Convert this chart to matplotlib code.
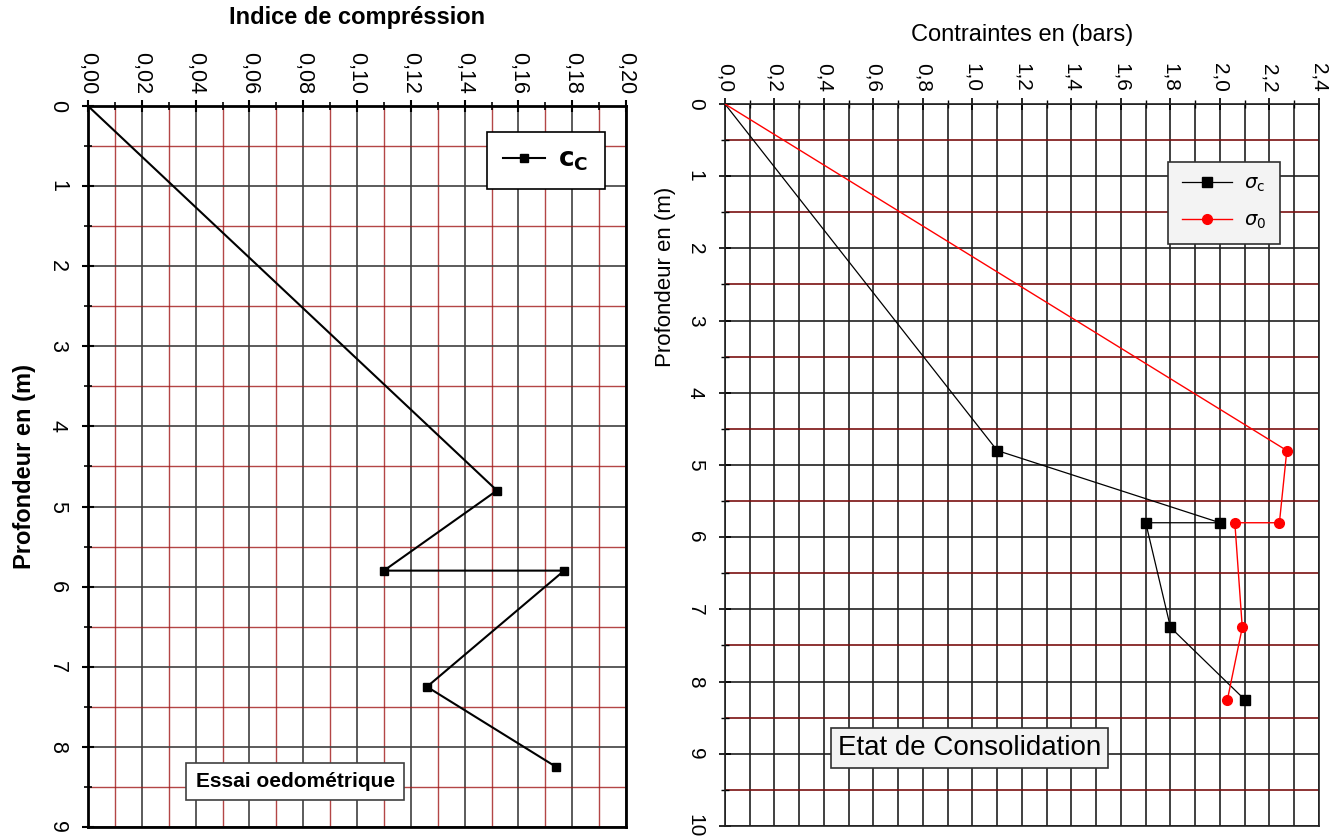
import matplotlib.pyplot as plt
from matplotlib.ticker import MultipleLocator, FuncFormatter

plt.rcParams['font.family'] = ['Liberation Sans', 'DejaVu Sans']

# left chart: indice de compression vs profondeur
prof_cc = [0, 4.8, 5.8, 5.8, 7.25, 8.25]
cc = [0, 0.152, 0.110, 0.177, 0.126, 0.174]

# right chart: contraintes vs profondeur
prof_sig = [0, 4.8, 5.8, 5.8, 7.25, 8.25]
sigma_c = [0, 1.1, 2.0, 1.7, 1.8, 2.1]
sigma_0 = [0, 2.27, 2.24, 2.06, 2.09, 2.03]

red = '#a01818'


def comma(fmt):
    return FuncFormatter(lambda v, p: (fmt % v).replace('.', ','))


fig = plt.figure(figsize=(13.44, 8.36), dpi=100)

# ---------------- left plot ----------------
ax1 = fig.add_axes([0.0655, 0.0108, 0.4003, 0.8624])
ax1.plot(cc, prof_cc, color='black', lw=1.5, marker='s', ms=6,
         markevery=list(range(1, len(cc))), label=r'$\mathbf{c}_{\mathbf{C}}$', zorder=3)
ax1.set_xlim(0, 0.20)
ax1.set_ylim(9, 0)
ax1.xaxis.set_major_locator(MultipleLocator(0.02))
ax1.xaxis.set_minor_locator(MultipleLocator(0.01))
ax1.yaxis.set_major_locator(MultipleLocator(1))
ax1.yaxis.set_minor_locator(MultipleLocator(0.5))
ax1.xaxis.set_major_formatter(comma('%.2f'))
ax1.xaxis.tick_top()
ax1.xaxis.set_label_position('top')
ax1.grid(which='major', color='#404040', lw=1.2)
ax1.grid(which='minor', color=red, lw=1.0, alpha=0.8)
ax1.tick_params(which='major', length=9, width=1.5, labelsize=15.5, direction='inout')
ax1.tick_params(which='minor', length=6, width=1.2, direction='inout')
ax1.tick_params(axis='x', which='major', labelrotation=-90, pad=4)
ax1.tick_params(axis='y', which='major', labelrotation=-90, pad=10)
for lab in ax1.get_yticklabels():
    lab.set_va('center')
for sp in ax1.spines.values():
    sp.set_linewidth(2)
ax1.set_title('Indice de compréssion', fontsize=17, fontweight='bold', pad=20)
ax1.set_ylabel('Profondeur en (m)', fontsize=17, fontweight='bold', labelpad=8)
leg1 = ax1.legend(loc='upper right', bbox_to_anchor=(0.96, 0.964), fontsize=19,
                  fancybox=False, edgecolor='black', framealpha=1, handlelength=1.6,
                  handletextpad=0.5, borderpad=0.6, borderaxespad=0)
leg1.get_frame().set_linewidth(1.2)
ax1.text(0.2, 0.063, 'Essai oedométrique', transform=ax1.transAxes, fontsize=15,
         fontweight='bold', va='center', ha='left',
         bbox=dict(boxstyle='square,pad=0.45', fc='white', ec='#404040', lw=1.2))

# ---------------- right plot ----------------
ax2 = fig.add_axes([0.5394, 0.012, 0.442, 0.8636])
ax2.plot(sigma_c, prof_sig, color='black', lw=0.9, marker='s', ms=7,
         markevery=list(range(1, len(sigma_c))), label=r'$\sigma_\mathrm{c}$', zorder=3)
ax2.plot(sigma_0, prof_sig, color='red', lw=1.0, marker='o', ms=7,
         markevery=list(range(1, len(sigma_0))), label=r'$\sigma_0$', zorder=3)
ax2.set_xlim(0, 2.4)
ax2.set_ylim(10, 0)
ax2.xaxis.set_major_locator(MultipleLocator(0.2))
ax2.xaxis.set_minor_locator(MultipleLocator(0.1))
ax2.yaxis.set_major_locator(MultipleLocator(1))
ax2.yaxis.set_minor_locator(MultipleLocator(0.5))
ax2.xaxis.set_major_formatter(comma('%.1f'))
ax2.xaxis.tick_top()
ax2.xaxis.set_label_position('top')
ax2.grid(which='major', color='#202020', lw=1.2)
ax2.grid(axis='x', which='minor', color='#202020', lw=1.2)
ax2.grid(axis='y', which='minor', color='#7a1010', lw=1.2)
ax2.tick_params(which='major', length=9, width=1.2, labelsize=15, direction='inout')
ax2.tick_params(which='minor', length=6, width=1.0, direction='inout')
ax2.tick_params(axis='x', which='major', labelrotation=-90, pad=4)
ax2.tick_params(axis='y', which='major', labelrotation=-90, pad=10)
for lab in ax2.get_yticklabels():
    lab.set_va('center')
for sp in ax2.spines.values():
    sp.set_linewidth(1.2)
    sp.set_color('#202020')
ax2.set_title('Contraintes en (bars)', fontsize=17, pad=45)
ax2.set_ylabel('Profondeur en (m)', fontsize=16)
ax2.yaxis.set_label_coords(-0.082, 0.76)
leg2 = ax2.legend(loc='upper right', bbox_to_anchor=(0.934, 0.92), fontsize=14,
                  fancybox=False, edgecolor='#303030', facecolor='#f3f3f3',
                  framealpha=1, handlelength=2.6, handletextpad=0.6, borderpad=0.7,
                  labelspacing=0.9, borderaxespad=0)
leg2.get_frame().set_linewidth(1.2)
ax2.text(0.19, 0.108, 'Etat de Consolidation', transform=ax2.transAxes, fontsize=20,
         va='center', ha='left',
         bbox=dict(boxstyle='square,pad=0.25', fc='#f3f3f3', ec='#303030', lw=1.2))

fig.savefig('out.png', dpi=100)
